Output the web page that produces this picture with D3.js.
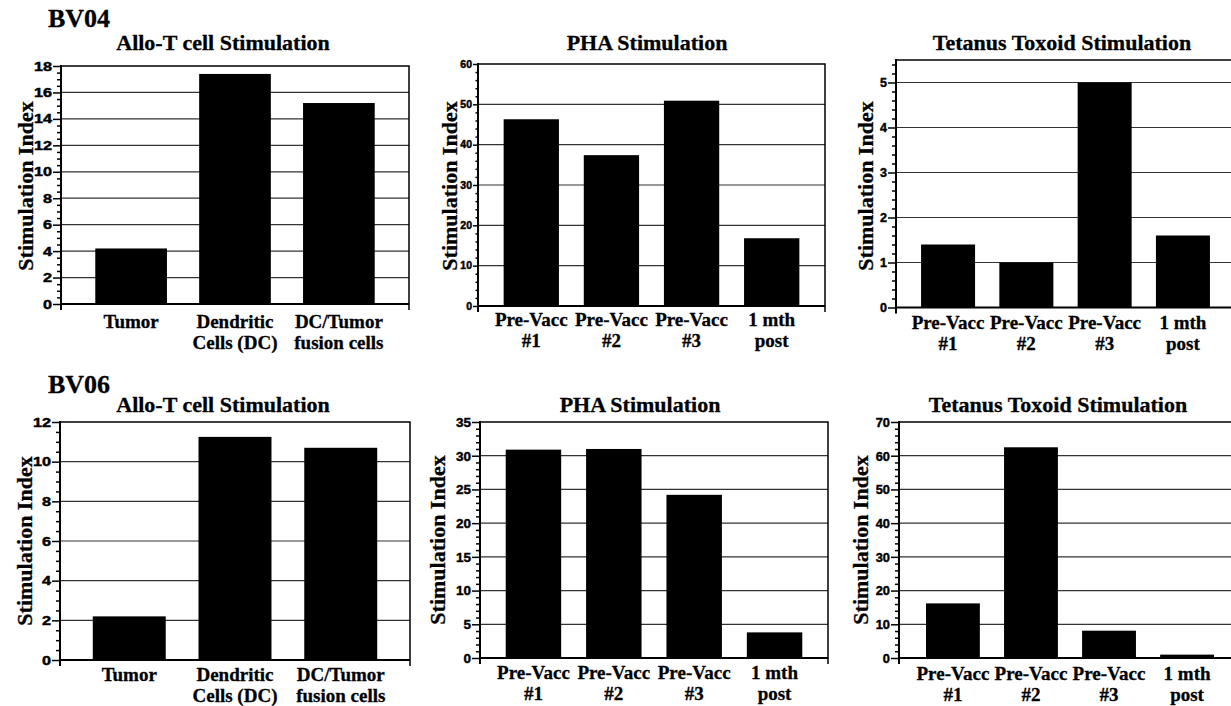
<!DOCTYPE html>
<html>
<head>
<meta charset="utf-8">
<script src="https://cdn.jsdelivr.net/npm/d3@7"></script>
<style>
  body { margin: 0; background: #fff; }
  svg { display: block; }
  .serif { font-family: "Liberation Serif", "Times New Roman", serif; font-weight: bold; fill: #000; stroke: #000; stroke-width: 0.3; }
  .tick text { font-family: "Liberation Sans", Arial, sans-serif; font-weight: bold; fill: #000; stroke: #000; stroke-width: 0.45; }
</style>
</head>
<body>
<script>
// categories
const alloCats = [['Tumor'], ['Dendritic', 'Cells (DC)'], ['DC/Tumor', 'fusion cells']]
const vaccCats = [['Pre-Vacc', '#1'], ['Pre-Vacc', '#2'], ['Pre-Vacc', '#3'], ['1 mth', 'post']]

// values (Stimulation Index)
const bv04Allo = [4.2, 17.4, 15.2]
const bv04Pha = [46.3, 37.4, 50.9, 16.8]
const bv04Tt = [1.4, 1.0, 5.0, 1.6]
const bv06Allo = [2.2, 11.25, 10.7]
const bv06Pha = [30.9, 31.0, 24.2, 3.8]
const bv06Tt = [16.2, 62.5, 8.1, 1.0]

// y tick labels
const bv04AlloTicks = [0, 2, 4, 6, 8, 10, 12, 14, 16, 18]
const bv04PhaTicks = [0, 10, 20, 30, 40, 50, 60]
const bv04TtTicks = [0, 1, 2, 3, 4, 5]
const bv06AlloTicks = [0, 2, 4, 6, 8, 10, 12]
const bv06PhaTicks = [0, 5, 10, 15, 20, 25, 30, 35]
const bv06TtTicks = [0, 10, 20, 30, 40, 50, 60, 70]

const width = 1231
const height = 706

const svg = d3.select('body').append('svg')
  .attr('width', width)
  .attr('height', height)
  .attr('viewBox', [0, 0, width, height])

function panel({ values, cats, ticks, yMax, minor, box, po, title, titleX, titleY, labelX, labelY,
  tickFont, tickScale = 1, tickLen = 8, catY }) {
  const g = svg.append('g')

  const x = d3.scaleBand()
    .domain(d3.range(values.length))
    .range([box.left, box.right])
    .paddingInner(0.31)
    .paddingOuter(po)

  const y = d3.scaleLinear()
    .domain([0, yMax])
    .range([box.bottom, box.top])

  // gridlines at major ticks
  g.append('g')
    .selectAll('line')
    .data(ticks.filter(d => d > 0 && d < yMax))
    .join('line')
    .attr('x1', box.left)
    .attr('x2', box.right)
    .attr('y1', d => y(d))
    .attr('y2', d => y(d))
    .attr('stroke', '#333')
    .attr('stroke-width', 1.2)

  // frame top + right
  g.append('path')
    .attr('d', `M${box.left},${box.top}H${box.right}V${box.bottom + 6}`)
    .attr('fill', 'none')
    .attr('stroke', '#000')
    .attr('stroke-width', 1.5)

  g.append('g')
    .selectAll('rect')
    .data(values)
    .join('rect')
    .attr('x', (d, i) => x(i))
    .attr('y', d => y(d))
    .attr('width', x.bandwidth())
    .attr('height', d => y(0) - y(d))
    .attr('fill', '#000')

  // minor ticks
  const minorVals = d3.range(0, yMax + 1e-9, minor).filter(v => !ticks.some(t => Math.abs(t - v) < 1e-6))
  g.append('g')
    .attr('transform', `translate(${box.left},0)`)
    .call(d3.axisLeft(y).tickValues(minorVals).tickSize(tickLen / 2).tickFormat(''))
    .call(a => a.select('.domain').remove())
    .call(a => a.selectAll('line').attr('stroke-width', 1.5))

  // major ticks
  g.append('g')
    .attr('transform', `translate(${box.left},0)`)
    .call(d3.axisLeft(y).tickValues(ticks).tickSize(tickLen).tickPadding(1).tickFormat(d3.format('d')))
    .call(a => a.select('.domain').remove())
    .call(a => a.selectAll('line').attr('stroke-width', 1.5))
    .call(a => a.selectAll('text')
      .attr('font-size', tickFont)
      .attr('x', -(tickLen + 1) / tickScale)
      .attr('transform', `scale(${tickScale},1)`))

  // axis lines
  g.append('line')
    .attr('x1', box.left).attr('x2', box.left)
    .attr('y1', box.top - 1).attr('y2', box.bottom + 6)
    .attr('stroke', '#000').attr('stroke-width', 2)
  g.append('line')
    .attr('x1', box.left).attr('x2', box.right)
    .attr('y1', y(0)).attr('y2', y(0))
    .attr('stroke', '#000').attr('stroke-width', 2)

  // category labels
  g.append('g')
    .selectAll('text')
    .data(cats)
    .join('text')
    .attr('class', 'serif')
    .attr('font-size', 19)
    .attr('text-anchor', 'middle')
    .attr('x', (d, i) => x(i) + x.bandwidth() / 2)
    .attr('y', box.bottom + catY)
    .selectAll('tspan')
    .data(d => d)
    .join('tspan')
    .attr('x', function() { return d3.select(this.parentNode).attr('x') })
    .attr('dy', (d, i) => (i ? 21 : 0))
    .text(d => d)

  g.append('text')
    .attr('class', 'serif')
    .attr('font-size', 22)
    .attr('text-anchor', 'middle')
    .attr('x', titleX)
    .attr('y', titleY)
    .text(title)

  g.append('text')
    .attr('class', 'serif')
    .attr('font-size', 22)
    .attr('text-anchor', 'middle')
    .attr('transform', `translate(${labelX},${labelY}) rotate(-90)`)
    .text('Stimulation Index')
}

svg.append('text').attr('class', 'serif').attr('font-size', 26).attr('x', 48).attr('y', 27).text('BV04')
svg.append('text').attr('class', 'serif').attr('font-size', 26).attr('x', 48).attr('y', 393).text('BV06')

panel({ values: bv04Allo, cats: alloCats, ticks: bv04AlloTicks, yMax: 18, minor: 0.5,
  box: { left: 61, top: 66, right: 409, bottom: 304 }, po: 0.33,
  title: 'Allo-T cell Stimulation', titleX: 223, titleY: 50, labelX: 33, labelY: 186,
  tickFont: 12.5, tickScale: 1.3, catY: 24 })

panel({ values: bv04Pha, cats: vaccCats, ticks: bv04PhaTicks, yMax: 60, minor: 2,
  box: { left: 478, top: 64, right: 825, bottom: 306 }, po: 0.32,
  title: 'PHA Stimulation', titleX: 647, titleY: 50, labelX: 457, labelY: 186,
  tickFont: 10, tickScale: 1.05, tickLen: 5, catY: 20 })

panel({ values: bv04Tt, cats: vaccCats, ticks: bv04TtTicks, yMax: 5.5, minor: 0.2,
  box: { left: 896, top: 60, right: 1235, bottom: 307.5 }, po: 0.32,
  title: 'Tetanus Toxoid Stimulation', titleX: 1062, titleY: 50, labelX: 873, labelY: 186,
  tickFont: 12.5, tickScale: 1, catY: 21 })

panel({ values: bv06Allo, cats: alloCats, ticks: bv06AlloTicks, yMax: 12, minor: 0.5,
  box: { left: 60, top: 422, right: 410, bottom: 660 }, po: 0.31,
  title: 'Allo-T cell Stimulation', titleX: 223, titleY: 412, labelX: 32, labelY: 541,
  tickFont: 12.5, tickScale: 1.3, catY: 21 })

panel({ values: bv06Pha, cats: vaccCats, ticks: bv06PhaTicks, yMax: 35, minor: 1,
  box: { left: 480, top: 422, right: 828, bottom: 658 }, po: 0.32,
  title: 'PHA Stimulation', titleX: 640, titleY: 412, labelX: 445, labelY: 540,
  tickFont: 13.5, tickScale: 1, catY: 21 })

panel({ values: bv06Tt, cats: vaccCats, ticks: bv06TtTicks, yMax: 70, minor: 2,
  box: { left: 899, top: 422, right: 1241, bottom: 658 }, po: 0.346,
  title: 'Tetanus Toxoid Stimulation', titleX: 1058, titleY: 412, labelX: 868, labelY: 540,
  tickFont: 13.5, tickScale: 0.95, catY: 22 })
</script>
</body>
</html>
